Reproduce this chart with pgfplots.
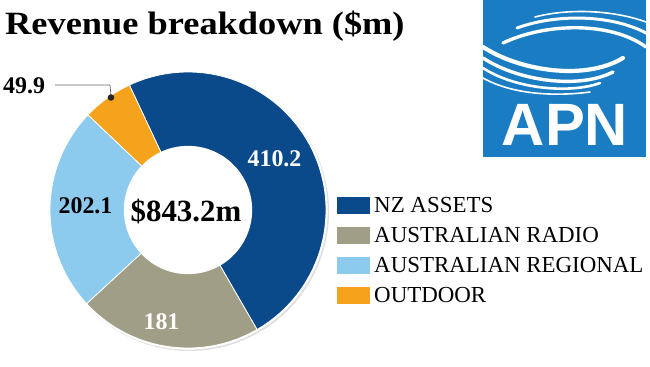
\documentclass[border=0pt]{standalone}
\usepackage{pgfplots}
\pgfplotsset{compat=1.18}
\usepackage{fontspec}
\setmainfont{Liberation Serif}
\setsansfont{Liberation Sans}
\usepackage{graphicx}
\definecolor{nzblue}{HTML}{0B4A8A}
\definecolor{radio}{HTML}{A09E86}
\definecolor{regional}{HTML}{8DCBEE}
\definecolor{outdoor}{HTML}{F5A21D}
\definecolor{logoblue}{HTML}{1A7DC3}
% data ($m)
\newcommand\vNZ{410.2}
\newcommand\vRadio{181}
\newcommand\vRegional{202.1}
\newcommand\vOutdoor{49.9}
\begin{document}
\begin{tikzpicture}[x=1bp,y=1bp]
\useasboundingbox (0,0) rectangle (650,366);
\coordinate (C) at (188,156);
\pgfmathsetmacro\T{\vNZ+\vRadio+\vRegional+\vOutdoor}
\pgfmathsetmacro\aA{-60}
\pgfmathsetmacro\aB{\aA+360*(\vNZ/\T)}
\pgfmathsetmacro\aC{\aB+360*(\vOutdoor/\T)}
\pgfmathsetmacro\aD{\aC+360*(\vRegional/\T)}
\pgfmathsetmacro\aE{\aD+360*(\vRadio/\T)}
% faint shadow ring
\fill[black!12] (189.5,154.5) circle (139.5);
\begin{axis}[
  at={(C)}, anchor=origin,
  scale only axis, width=276bp, height=276bp,
  xmin=-1, xmax=1, ymin=-1, ymax=1,
  hide axis, clip=false,
  legend style={at={(axis description cs:1.04,0.548)}, anchor=north west,
    draw=none, fill=none, inner sep=0pt, row sep=13bp,
    font=\fontsize{23}{25}\selectfont,
    nodes={inner xsep=4bp, inner ysep=0pt}},
  legend cell align=left,
  legend image code/.code={\path[#1, draw=none] (0bp,-8.5bp) rectangle (33bp,8.5bp);},
]
\addplot[fill=white, draw=none, domain=0:360, samples=120, variable=\t, forget plot]
  ({1.012*cos(\t)},{1.012*sin(\t)}) -- cycle;
\addplot[fill=nzblue, draw=white, line width=0.8bp, domain=\aA:\aB, samples=90, variable=\t]
  ({cos(\t)},{sin(\t)}) -- (axis cs:0,0) -- cycle;
\addlegendentry{NZ ASSETS}
\addplot[fill=radio, draw=white, line width=0.8bp, domain=\aD:\aE, samples=60, variable=\t]
  ({cos(\t)},{sin(\t)}) -- (axis cs:0,0) -- cycle;
\addlegendentry{AUSTRALIAN RADIO}
\addplot[fill=regional, draw=white, line width=0.8bp, domain=\aC:\aD, samples=60, variable=\t]
  ({cos(\t)},{sin(\t)}) -- (axis cs:0,0) -- cycle;
\addlegendentry{AUSTRALIAN REGIONAL}
\addplot[fill=outdoor, draw=white, line width=0.8bp, domain=\aB:\aC, samples=20, variable=\t]
  ({cos(\t)},{sin(\t)}) -- (axis cs:0,0) -- cycle;
\addlegendentry{OUTDOOR}
\addplot[fill=white, draw=none, domain=0:360, samples=120, variable=\t, forget plot]
  ({0.465*cos(\t)},{0.465*sin(\t)}) -- cycle;
\end{axis}
% title
\node[anchor=base west, inner sep=0] at (5,332)
  {\scalebox{1.12}[1]{\fontsize{32.6}{36}\selectfont\bfseries Revenue breakdown (\$m)}};
% value labels
\node[anchor=base, inner sep=0, white] at (274.5,200) {\fontsize{24}{26}\selectfont\bfseries 410.2};
\node[anchor=base, inner sep=0, white] at (161.5,37) {\fontsize{24}{26}\selectfont\bfseries 181};
\node[anchor=base, inner sep=0] at (85.5,153) {\fontsize{24}{26}\selectfont\bfseries 202.1};
\node[anchor=base, inner sep=0] at (186,145) {\fontsize{31}{33}\selectfont\bfseries \$843.2m};
\node[anchor=base west, inner sep=0] at (3,273) {\fontsize{24}{26}\selectfont\bfseries 49.9};
\draw[black!60, line width=0.7bp] (55,281) -- (110,281) -- (111,270);
\fill[black!85] (111,268.5) circle (3.3);
% logo
\fill[logoblue] (483,366) rectangle (646,209);
\begin{scope}[white, line cap=round]
  \draw[line width=1.6bp] (535,349) .. controls (565,357) and (610,357) .. (646,344);
  \draw[line width=3.0bp] (517,338) .. controls (555,352) and (610,352) .. (646,333);
  \draw[line width=3.4bp] (503,323) .. controls (545,343) and (610,345) .. (646,319);
  \draw[line width=4.2bp] (483,319) .. controls (520,295) and (585,285) .. (623,308);
  \draw[line width=3.4bp] (483,308) .. controls (520,284) and (580,277) .. (613,294);
  \draw[line width=2.6bp] (483,298) .. controls (515,277) and (570,272) .. (600,283);
  \draw[line width=1.6bp] (483,288) .. controls (515,270) and (560,270) .. (590,274);
\end{scope}
\node[anchor=base, inner sep=0, white] at (565,221)
  {\fontsize{60}{62}\selectfont\sffamily\bfseries APN};
\end{tikzpicture}
\end{document}
